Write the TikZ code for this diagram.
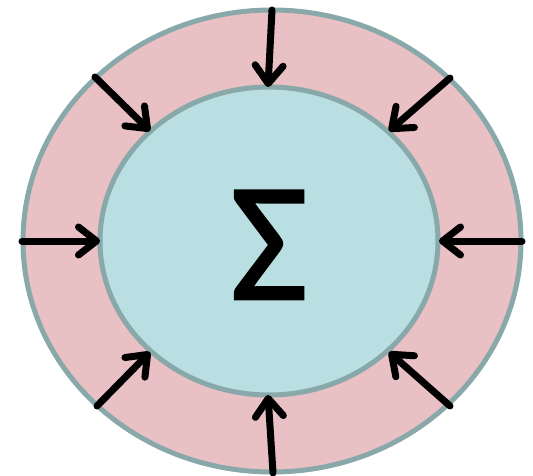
\documentclass[tikz,border=0pt]{standalone}
\usepackage{fontspec}
\newfontfamily\sigmafont[FakeBold=1.5]{Carlito}
\usetikzlibrary{arrows.meta}
\definecolor{ringpink}{RGB}{233,192,195}
\definecolor{coreteal}{RGB}{186,223,227}
\definecolor{rimgray}{RGB}{136,168,170}
\tikzset{
  ring/.style={fill=ringpink, draw=rimgray, line width=5pt},
  core/.style={fill=coreteal, draw=rimgray, line width=5pt},
  inarrow/.style={line width=7pt, line cap=round,
    -{Straight Barb[length=18pt, width=28pt, round]}},
}
\begin{document}
\begin{tikzpicture}[x=1pt,y=-1pt]
\useasboundingbox (0,0) rectangle (533,476);
\draw[ring] (272,241) ellipse [x radius=249, y radius=231];
\draw[core] (269,241) ellipse [x radius=169, y radius=154];
\node[inner sep=0pt, anchor=base, font=\sigmafont\fontsize{169}{169}\selectfont] (sigma) at (269,299) {Σ};
\coordinate (o1) at (272,10);  \coordinate (i1) at (268,87);
\coordinate (o2) at (450,78);  \coordinate (i2) at (389,131);
\coordinate (o3) at (522,241); \coordinate (i3) at (439,241);
\coordinate (o4) at (450,406); \coordinate (i4) at (389,352);
\coordinate (o5) at (273,473); \coordinate (i5) at (268,395);
\coordinate (o6) at (97,406);  \coordinate (i6) at (150,352);
\coordinate (o7) at (22,241);  \coordinate (i7) at (100,241);
\coordinate (o8) at (95,77);   \coordinate (i8) at (150,131);
\foreach \k in {1,...,8} \draw[inarrow] (o\k) -- (i\k);
\end{tikzpicture}
\end{document}
